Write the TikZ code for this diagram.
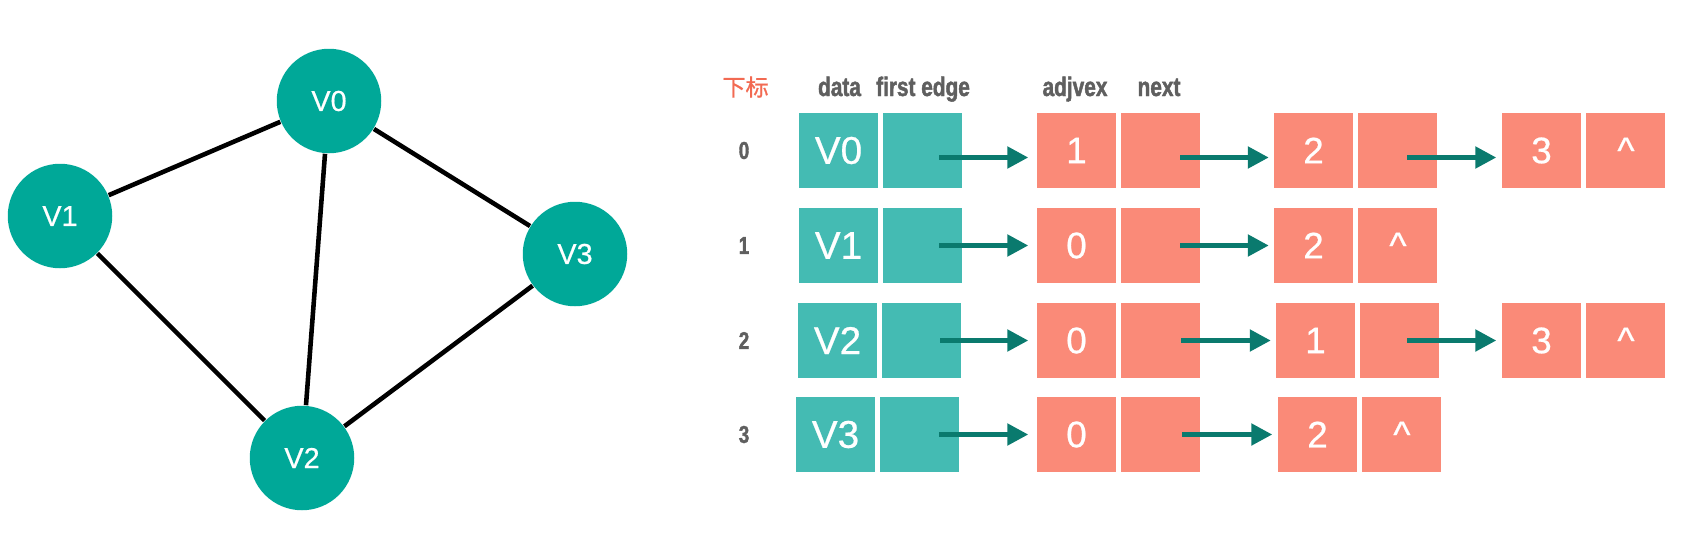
\documentclass[tikz,border=0pt]{standalone}
\usepackage{fontspec}
\setmainfont{Liberation Sans}
\newfontfamily\cjk[FakeBold=0.8]{Noto Sans CJK SC}
\newfontfamily\narrowsans[FakeStretch=0.78, FakeBold=1.6]{Liberation Sans}
\newfontfamily\cellfont[FakeBold=0.6]{Liberation Sans}
\usetikzlibrary{arrows.meta, positioning}
\definecolor{nodeteal}{RGB}{0,168,152}
\definecolor{cellteal}{RGB}{68,187,179}
\definecolor{cellsalmon}{RGB}{250,138,120}
\definecolor{arrowteal}{RGB}{10,122,110}
\definecolor{idxred}{RGB}{242,106,82}
\definecolor{hdrgray}{RGB}{95,95,95}

\begin{document}
\begin{tikzpicture}[
  x=0.1mm, y=-0.1mm,
  vtx/.style={circle, fill=nodeteal, minimum size=10.45mm, inner sep=0pt,
    text=white, font=\cellfont\fontsize{8.2}{10}\selectfont},
  edge/.style={line width=1.3pt, draw=black},
  vcell/.style={rectangle, fill=cellteal, minimum width=7.9mm, minimum height=7.45mm,
    inner sep=0pt, text=white, font=\cellfont\fontsize{11}{13}\selectfont},
  acell/.style={rectangle, fill=cellsalmon, minimum width=7.9mm, minimum height=7.45mm,
    inner sep=0pt, text=white, font=\cellfont\fontsize{10.5}{12}\selectfont},
  hdr/.style={anchor=base, text=hdrgray, font=\narrowsans\bfseries\fontsize{7.6}{9}\selectfont},
  idx/.style={text=hdrgray, font=\narrowsans\bfseries\fontsize{6.9}{8}\selectfont},
  arr/.style={-{Triangle[length=2.1mm, width=2.1mm]}, draw=arrowteal, line width=1.42pt}
]
\useasboundingbox (0,0) rectangle (1688,548);
% graph
\node[vtx] (v0) at (329,101) {V0};
\node[vtx] (v1) at (60,216) {V1};
\node[vtx] (v2) at (302,458) {V2};
\node[vtx] (v3) at (575,254) {V3};
\draw[edge] (v0) -- (v1);
\draw[edge] (v0) -- (v2);
\draw[edge] (v0) -- (v3);
\draw[edge] (v1) -- (v2);
\draw[edge] (v2) -- (v3);
% headers
\node[font=\cjk\fontsize{6.6}{8}\selectfont, text=idxred] (hidx) at (745.5,87) {下标};
\node[hdr] (hdata) at (839.5,96) {data};
\node[hdr] (hfirst) at (923,96) {first edge};
\node[hdr] (hadj) at (1075,96) {adjvex};
\node[hdr] (hnext) at (1159,96) {next};
% row 0
\node[idx] (i0) at (744,150.5) {0};
\node[vcell] (d0) at (838.5,150.5) {V0};
\node[vcell, right=0.4mm of d0] (e0) {};
\node[acell] (a01) at (1076.5,150.5) {1};
\node[acell, right=0.4mm of a01] (n01) {};
\node[acell] (a02) at (1313.5,150.5) {2};
\node[acell, right=0.4mm of a02] (n02) {};
\node[acell] (a03) at (1541.5,150.5) {3};
\node[acell, right=0.4mm of a03] (n03) {\textasciicircum};
% row 1
\node[idx] (i1) at (744,245.5) {1};
\node[vcell] (d1) at (838.5,245.5) {V1};
\node[vcell, right=0.4mm of d1] (e1) {};
\node[acell] (a11) at (1076.5,245.5) {0};
\node[acell, right=0.4mm of a11] (n11) {};
\node[acell] (a12) at (1313.5,245.5) {2};
\node[acell, right=0.4mm of a12] (n12) {\textasciicircum};
% row 2
\node[idx] (i2) at (744,340.5) {2};
\node[vcell] (d2) at (837.5,340.5) {V2};
\node[vcell, right=0.4mm of d2] (e2) {};
\node[acell] (a21) at (1076.5,340.5) {0};
\node[acell, right=0.4mm of a21] (n21) {};
\node[acell] (a22) at (1315.5,340.5) {1};
\node[acell, right=0.4mm of a22] (n22) {};
\node[acell] (a23) at (1541.5,340.5) {3};
\node[acell, right=0.4mm of a23] (n23) {\textasciicircum};
% row 3
\node[idx] (i3) at (744,434.5) {3};
\node[vcell] (d3) at (835.5,434.5) {V3};
\node[vcell, right=0.4mm of d3] (e3) {};
\node[acell] (a31) at (1076.5,434.5) {0};
\node[acell, right=0.4mm of a31] (n31) {};
\node[acell] (a32) at (1317.5,434.5) {2};
\node[acell, right=0.4mm of a32] (n32) {\textasciicircum};
% links
\draw[arr] ([xshift=-2.4mm, yshift=-0.7mm]e0.east) -- ([xshift=-0.8mm, yshift=-0.7mm]a01.west);
\draw[arr] ([xshift=-2.1mm, yshift=-0.7mm]n01.east) -- ([xshift=-0.45mm, yshift=-0.7mm]a02.west);
\draw[arr] ([xshift=-3.1mm, yshift=-0.7mm]n02.east) -- ([xshift=-0.5mm, yshift=-0.7mm]a03.west);
\draw[arr] ([xshift=-2.4mm]e1.east) -- ([xshift=-0.8mm]a11.west);
\draw[arr] ([xshift=-2.1mm]n11.east) -- ([xshift=-0.45mm]a12.west);
\draw[arr] ([xshift=-2.2mm]e2.east) -- ([xshift=-0.8mm]a21.west);
\draw[arr] ([xshift=-2mm]n21.east) -- ([xshift=-0.45mm]a22.west);
\draw[arr] ([xshift=-3.3mm]n22.east) -- ([xshift=-0.5mm]a23.west);
\draw[arr] ([xshift=-2.1mm]e3.east) -- ([xshift=-0.8mm]a31.west);
\draw[arr] ([xshift=-1.9mm]n31.east) -- ([xshift=-0.5mm]a32.west);
\end{tikzpicture}
\end{document}
